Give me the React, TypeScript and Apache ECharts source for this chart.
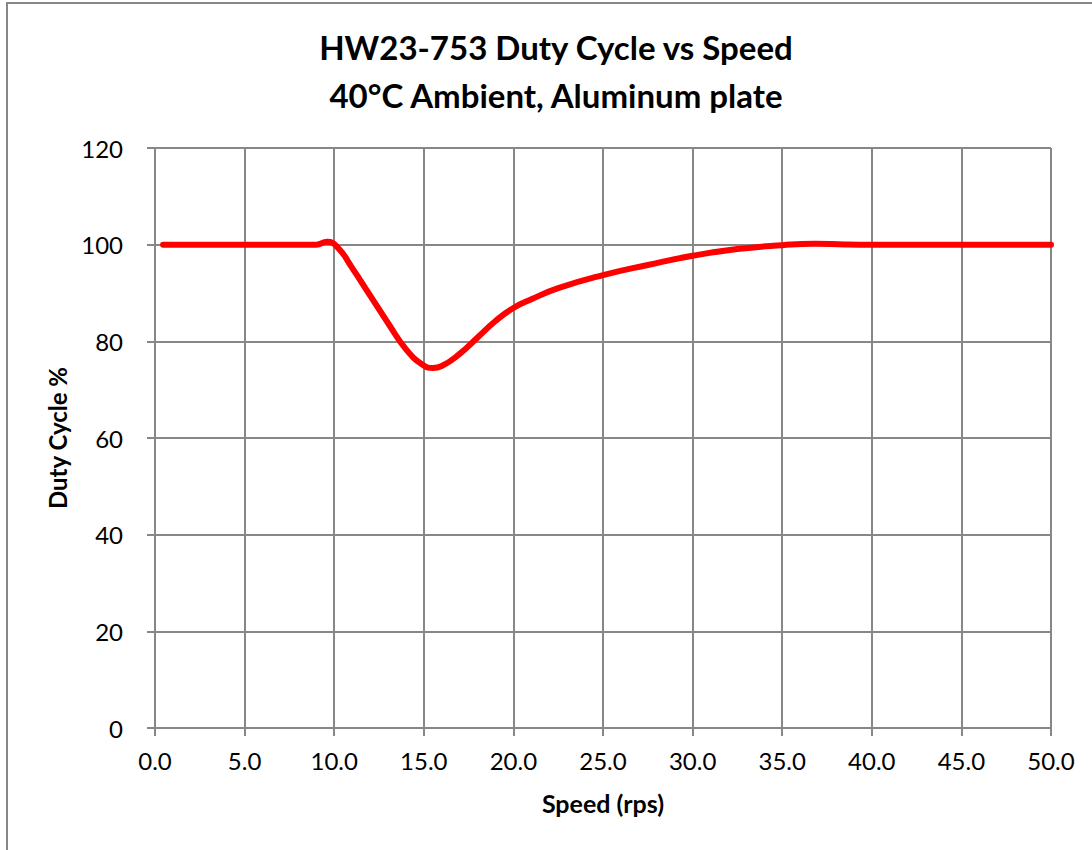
import React, { useEffect, useRef } from "react";
import * as echarts from "echarts";

const speeds = [0.45, 3, 6, 9.0, 9.6, 10.2, 11, 12, 13, 14, 15, 15.5, 16, 17, 18, 19, 20, 21, 22.5, 25, 27.5, 30, 32.5, 35, 36.8, 38.5, 40, 45, 50];
const duty = [100, 100, 100, 100, 100.6, 99.4, 95.2, 89.5, 83.8, 78.4, 75.0, 74.5, 74.9, 77.4, 80.8, 84.2, 86.9, 88.7, 91, 93.7, 95.8, 97.7, 99.1, 99.9, 100.2, 100.05, 100, 100, 100];
const xTicks = [0, 5, 10, 15, 20, 25, 30, 35, 40, 45, 50];
const yTicks = [0, 20, 40, 60, 80, 100, 120];

const titleLines = ["HW23-753 Duty Cycle vs Speed", "40°C Ambient, Aluminum plate"];

export default function App() {
  const ref = useRef<HTMLDivElement>(null);
  useEffect(() => {
    if (!ref.current) return;
    const chart = echarts.init(ref.current, undefined, { renderer: "svg" });
    const gray = "#878787";
    const font = "Lato, 'Open Sans', sans-serif";
    chart.setOption({
      animation: false,
      backgroundColor: "#ffffff",
      graphic: [
        {
          type: "rect",
          shape: { x: 7, y: 3, width: 1200, height: 1000 },
          style: { fill: "none", stroke: gray, lineWidth: 2 },
          silent: true,
        },
        {
          type: "text",
          x: 556,
          y: 47,
          style: { text: titleLines[0], font: `bold 33px ${font}`, fill: "#000", align: "center", verticalAlign: "middle" },
        },
        {
          type: "text",
          x: 556,
          y: 95,
          style: { text: titleLines[1], font: `bold 33px ${font}`, fill: "#000", align: "center", verticalAlign: "middle" },
        },
      ],
      grid: { left: 155, top: 148, right: 41, bottom: 122, containLabel: false },
      xAxis: {
        type: "value",
        min: xTicks[0],
        max: xTicks[xTicks.length - 1],
        interval: 5,
        name: "Speed (rps)",
        nameLocation: "middle",
        nameGap: 62,
        nameTextStyle: { fontFamily: font, fontWeight: "bold", fontSize: 25, color: "#000", verticalAlign: "top" },
        axisLine: { show: true, lineStyle: { color: gray, width: 2 } },
        axisTick: { show: true, length: 8, lineStyle: { color: gray, width: 2 } },
        axisLabel: { fontFamily: font, fontSize: 24, color: "#000", margin: 20, formatter: (v: number) => v.toFixed(1) },
        splitLine: { show: true, lineStyle: { color: gray, width: 2 } },
      },
      yAxis: {
        type: "value",
        min: yTicks[0],
        max: yTicks[yTicks.length - 1],
        interval: 20,
        name: "Duty Cycle %",
        nameLocation: "middle",
        nameGap: 86,
        nameRotate: 90,
        nameTextStyle: { fontFamily: font, fontWeight: "bold", fontSize: 24, color: "#000" },
        axisLine: { show: true, lineStyle: { color: gray, width: 2 } },
        axisTick: { show: true, length: 8, lineStyle: { color: gray, width: 2 } },
        axisLabel: { fontFamily: font, fontSize: 24, color: "#000", margin: 32 },
        splitLine: { show: true, lineStyle: { color: gray, width: 2 } },
      },
      series: [
        {
          type: "line",
          data: speeds.map((s, i) => [s, duty[i]]),
          smooth: 0.5,
          showSymbol: false,
          symbol: "none",
          lineStyle: { color: "#ff0000", width: 6, cap: "round" },
        },
      ],
    });
    return () => chart.dispose();
  }, []);
  return <div ref={ref} style={{ position: "absolute", left: 0, top: 0, width: 1092, height: 850 }} />;
}
